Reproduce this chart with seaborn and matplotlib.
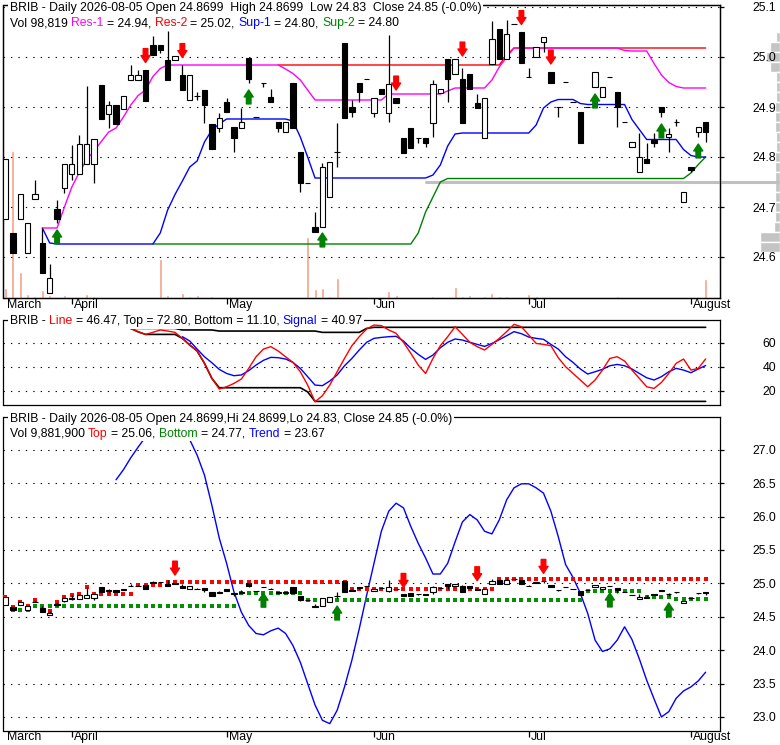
import numpy as np
import pandas as pd
import seaborn as sns
from matplotlib import pyplot as plt
from matplotlib.offsetbox import AnchoredOffsetbox, HPacker, VPacker, TextArea
from matplotlib.transforms import ScaledTranslation

# trading days on the chart (2026 exchange calendar)
holidays = ['2026-04-03', '2026-05-25', '2026-06-19', '2026-07-03']
dates = pd.bdate_range('2026-03-19', '2026-08-05', freq='C', holidays=holidays)
month_labels = ['March', 'April', 'May', 'Jun', 'Jul', 'August']

# daily candles (None = no wick beyond the body)
open_ = [24.676, 24.648, 24.676, 24.608, 24.716, 24.628, 24.528, 24.696, 24.738, 24.766,
         24.766, 24.786, 24.786, 24.944, 24.886, 24.904, 24.896, 24.954, 24.954, 24.974,
         25.024, 25.024, 24.994, 24.994, 24.964, 24.914, 24.922, 24.934, 24.866, 24.858,
         24.910, 24.860, 24.858, 24.998, 24.880, 24.948, 24.920, 24.870, 24.850, 24.948,
         24.810, 24.748, 24.660, 24.660, 24.720, 24.810, 25.028, 24.900, 24.948, 24.956,
         24.888, 24.936, 24.888, 24.918, 24.838, 24.858, 24.838, 24.838, 24.868, 24.928,
         24.996, 24.966, 24.956, 24.966, 24.908, 24.838, 24.986, 25.056, 24.996, 25.066,
         25.050, 24.960, 25.000, 25.030, 24.970, 24.900, 24.950, 24.910, 24.890, 24.900,
         24.940, 24.920, 24.960, 24.930, 24.870, 24.820, 24.770, 24.796, 24.834, 24.900,
         24.840, 24.870, 24.710, 24.780, 24.850, 24.8699]
close = [24.796, 24.608, 24.726, 24.668, 24.726, 24.568, 24.558, 24.676, 24.786, 24.786,
         24.826, 24.826, 24.836, 24.876, 24.904, 24.866, 24.922, 24.964, 24.964, 24.912,
         25.004, 25.014, 24.954, 25.002, 24.934, 24.964, 24.922, 24.904, 24.816, 24.878,
         24.890, 24.838, 24.870, 24.956, 24.880, 24.948, 24.910, 24.858, 24.870, 24.858,
         24.748, 24.748, 24.650, 24.780, 24.790, 24.810, 24.878, 24.890, 24.930, 24.956,
         24.918, 24.926, 24.946, 24.908, 24.808, 24.818, 24.838, 24.828, 24.946, 24.936,
         24.956, 24.996, 24.868, 24.936, 24.898, 24.918, 25.036, 24.996, 25.046, 25.066,
         24.988, 24.960, 25.020, 25.040, 24.948, 24.900, 24.950, 24.910, 24.828, 24.900,
         24.970, 24.940, 24.960, 24.900, 24.870, 24.830, 24.800, 24.788, 24.828, 24.890,
         24.846, 24.870, 24.730, 24.774, 24.860, 24.850]
high = [None, None, None, None, 24.754, 24.658, 24.586, 24.714, None, 24.824,
        24.844, 24.942, None, None, 24.912, None, None, 24.984, 24.974, None,
        25.042, None, 25.052, None, 24.984, None, 24.930, None, None, 24.888,
        24.918, None, 24.898, None, None, None, 24.936, None, None, None,
        None, None, 24.690, 24.788, None, 24.868, None, 24.914, None, None,
        None, None, 25.044, None, None, None, None, None, 24.954, None,
        None, None, 24.978, None, 24.926, None, 25.072, None, 25.074, None,
        None, 24.978, None, None, None, None, None, None, None, None,
        None, None, None, None, None, None, 24.848, 24.828, 24.848, None,
        24.858, 24.876, None, None, None, None]
low = [None, None, None, None, None, None, None, 24.668, 24.728, 24.754,
       None, None, 24.748, None, 24.858, None, None, None, None, None,
       None, 25.008, None, None, None, None, 24.914, 24.868, None, 24.850,
       None, 24.810, None, 24.948, None, 24.940, None, 24.850, None, None,
       24.730, None, None, None, None, 24.780, None, 24.880, 24.910, None,
       24.880, None, 24.870, None, None, None, 24.828, 24.820, 24.840, None,
       24.910, None, None, None, None, None, None, None, None, None,
       None, None, None, 25.010, None, 24.880, None, None, None, None,
       None, None, None, 24.860, None, None, None, None, 24.820, 24.880,
       24.810, 24.862, None, 24.770, 24.840, 24.830]
volume = [52000, 764400, 135200, 20800, 10400, 41600, 15600, 5200, 15600, 0,
          0, 20800, 10400, 0, 0, 5200, 0, 0, 5200, 0,
          5200, 202800, 15600, 0, 26000, 10400, 15600, 5200, 10400, 5200,
          0, 5200, 5200, 0, 0, 5200, 0, 0, 0, 0,
          0, 317200, 46800, 52000, 10400, 104000, 0, 5200, 0, 5200,
          0, 5200, 36400, 15600, 0, 5200, 0, 0, 10400, 5200,
          0, 57200, 10400, 15600, 5200, 10400, 26000, 10400, 10400, 5200,
          5200, 20800, 10400, 5200, 0, 5200, 0, 0, 0, 0,
          0, 0, 0, 10400, 0, 5200, 5200, 5200, 5200, 5200,
          0, 0, 0, 5200, 5200, 98819]

# resistance / support lines of the price panel
res1 = ([None] * 5 + [24.658, 24.658, 24.658, 24.700, 24.740, 24.769, 24.794, 24.812, 24.831,
                      24.850, 24.858, 24.880, 24.904, 24.923, 24.934, 24.961, 24.977]
        + [24.984] * 16 + [24.976, 24.967, 24.954, 24.934] + [24.914] * 10 + [24.926] * 8
        + [24.932] + [24.938] * 5 + [24.954, 24.980, 25.000] + [25.018] * 15 + [25.013]
        + [25.012] * 3 + [24.987, 24.964, 24.949, 24.941] + [24.938] * 4)
res2 = [None] * 37 + [24.984] * 31 + [25.004] + [25.018] * 27
sup1 = ([None] * 5 + [24.658, 24.628] + [24.626] * 14
        + [24.648, 24.694, 24.725, 24.752, 24.780, 24.792, 24.830, 24.854, 24.866]
        + [24.876] * 9 + [24.872, 24.840, 24.800] + [24.758] * 16
        + [24.764, 24.784, 24.822, 24.846] + [24.848] * 10 + [24.864, 24.898, 24.910]
        + [24.915] * 3 + [24.907] + [24.905] * 6 + [24.875, 24.855] + [24.835] * 5
        + [24.815, 24.803, 24.800, 24.800])
sup2 = ([None] * 20 + [24.626] * 36 + [24.648, 24.690, 24.720, 24.750] + [24.757] * 33
        + [24.768, 24.785, 24.800])
sell_top_i = [19, 24, 53, 62, 70, 74]
sell_top_p = [24.989, 24.999, 24.934, 25.002, 25.065, 24.986]
buy_top_i = [7, 33, 43, 80, 89, 94]
buy_top_p = [24.654, 24.934, 24.648, 24.926, 24.866, 24.826]
last_level = 24.75
last_level_from = 57
vap_price = [25.04, 25.02, 25.00, 24.98, 24.96, 24.94, 24.92, 24.90, 24.88, 24.86, 24.84,
             24.82, 24.80, 24.78, 24.76, 24.74, 24.72, 24.70, 24.68, 24.66, 24.64, 24.62]
vap_size = [4, 10, 14, 10, 4, 4, 4, 5, 5, 5, 4, 4, 5, 5, 5, 5, 5, 5, 5, 6, 20, 20]

# oscillator panel
osc_line = ([None] * 17 + [71.9, 69.2, 66.9, 68.6, 70.6, 69.7, 68.6, 63.6, 58.1, 53.1, 42.8,
                           30.3, 21.4, 23.3, 26.1, 29.7, 38.6, 48.3, 54.7, 56.7, 53.1, 48.3,
                           43.6, 35.8, 24.7, 10.8, 15.8, 24.7, 35.8, 46.9, 57.5, 65.0, 71.4,
                           74.7, 74.2, 70.6, 67.8, 60.3, 51.1, 41.4, 34.4, 46.9, 57.5, 65.0,
                           73.3, 66.9, 60.3, 56.7, 53.9, 58.6, 63.6, 69.2, 75.3, 73.3, 66.4,
                           59.4, 58.6, 57.5, 47.5, 40.0, 34.4, 28.9, 23.3, 28.9, 37.2, 46.9,
                           48.3, 44.7, 37.2, 30.3, 23.3, 21.9, 26.9, 34.4, 42.8, 46.4, 37.2,
                           38.6, 46.47])
osc_signal = ([None] * 24 + [65.0, 61.4, 54.7, 48.3, 43.3, 37.8, 34.4, 32.5, 33.1, 36.7, 41.4,
                             45.3, 47.8, 47.5, 46.4, 43.6, 38.6, 31.7, 24.7, 24.2, 28.1, 33.1,
                             40.8, 46.9, 53.9, 60.3, 63.6, 64.4, 65.0, 65.3, 61.4, 55.3, 50.3,
                             46.1, 49.7, 55.8, 60.3, 63.1, 62.2, 60.3, 58.6, 56.9, 59.4, 62.5,
                             65.8, 69.2, 67.5, 64.7, 63.6, 62.8, 58.6, 54.7, 48.3, 43.6, 38.1,
                             33.9, 35.8, 37.8, 40.8, 41.9, 40.8, 38.1, 34.4, 30.8, 28.9, 31.7,
                             35.8, 38.6, 37.2, 35.0, 38.1, 40.97])
osc_top = [None] * 17 + [71.9] * 7 + [70.6] * 5 + [69.7] * 14 + [68.6] * 6 + [71.9] + [72.8] * 46
osc_bottom = ([None] * 17 + [71.9, 69.0] + [66.9] * 5 + [63.6, 58.1, 53.1, 42.8, 30.3]
              + [22.5] * 12 + [19.0] + [11.1] * 54)

# trend panel
trend = ([None] * 15 + [26.55, 26.70, 26.88, 27.04, 27.19, 27.33, 27.42, 27.48, 27.45, 27.33,
                        27.15, 26.92, 26.62, 26.17, 25.68, 25.30, 24.87, 24.57, 24.37, 24.25,
                        24.23, 24.29, 24.33, 24.25, 24.07, 23.82, 23.50, 23.18, 22.95, 22.90,
                        23.10, 23.45, 23.85, 24.32, 24.82, 25.30, 25.78, 26.08, 26.20, 26.13,
                        25.85, 25.60, 25.38, 25.14, 25.14, 25.30, 25.62, 25.92, 26.03, 25.95,
                        25.78, 25.74, 25.95, 26.25, 26.43, 26.49, 26.49, 26.43, 26.35, 26.08,
                        25.70, 25.28, 25.09, 24.85, 24.55, 24.15, 23.98, 24.02, 24.15, 24.35,
                        24.16, 23.87, 23.55, 23.27, 23.00, 23.08, 23.28, 23.39, 23.45, 23.54,
                        23.67])
band_top = ([24.79, 24.65, 24.72, 24.66, 24.75, 24.66, 24.585, 24.715, 24.79, 24.825, 24.84, 24.94]
            + [24.84] * 6 + [24.975] * 4 + [25.015] * 25 + [24.91] * 20 + [25.06] * 29)
band_bottom = ([None, 24.60, 24.60, 24.60] + [24.655] * 28 + [24.86] * 9 + [24.75] * 38
               + [24.89] * 8 + [24.80] * 4 + [24.77] * 5)
sell_bot_i = [23, 54, 64, 73]
sell_bot_p = [25.124, 24.94, 25.04, 25.15]
buy_bot_i = [35, 45, 82, 90]
buy_bot_p = [24.852, 24.66, 24.855, 24.705]

W, H = 780, 745
FS = 8.8
sns.set_theme(style='white', rc={'axes.edgecolor': 'black', 'axes.linewidth': 0.9,
                                 'xtick.color': 'black', 'ytick.color': 'black'})
plt.rcParams['font.family'] = ['Liberation Sans', 'DejaVu Sans']

x = np.arange(len(dates))
o = np.array(open_, dtype=float)
c = np.array(close, dtype=float)
hi = np.array(high, dtype=float)
lo = np.array(low, dtype=float)
hi = np.where(np.isnan(hi), np.maximum(o, c), hi)
lo = np.where(np.isnan(lo), np.minimum(o, c), lo)
month_pos = [int(np.argmax(dates.month == m)) for m in sorted(set(dates.month))]

fig = plt.figure(figsize=(W / 100, H / 100), dpi=100)


def px_axes(top, bottom):
    return fig.add_axes([3.5 / W, 1 - bottom / H, 716 / W, (bottom - top) / H])


def grid(ax):
    ax.grid(axis='y', color='black', linestyle=(0, (1.2, 5.5)), linewidth=0.8)
    ax.grid(axis='x', visible=False)


def right_ticks(ax, ticks, fmt):
    ax.yaxis.tick_right()
    ax.set_yticks(ticks)
    ax.set_yticklabels([fmt % t for t in ticks])
    ax.tick_params(axis='y', right=True, left=False, direction='out', length=2.9,
                   width=0.9, pad=37.8, labelsize=FS)
    plt.setp(ax.get_yticklabels(), ha='right')


def month_axis(ax, pad):
    ax.set_xticks(month_pos)
    ax.set_xticklabels(month_labels, ha='left')
    ax.tick_params(axis='x', bottom=True, direction='out', length=4.3, width=0.9,
                   pad=pad, labelsize=FS)
    off = ScaledTranslation(2 / 100, 0, fig.dpi_scale_trans)
    for lab in ax.get_xticklabels():
        lab.set_transform(lab.get_transform() + off)
    ax.xaxis.get_major_ticks()[0].tick1line.set_visible(False)


def candles(ax):
    ax.vlines(x, lo, hi, color='black', lw=0.9, zorder=4)
    ax.bar(x, np.abs(c - o), width=0.72, bottom=np.minimum(o, c),
           color=np.where(c >= o, 'white', 'black'), edgecolor='black', linewidth=0.8, zorder=5)


def arrows(ax, idx, prices, color, up):
    for i, p in zip(idx, prices):
        ax.annotate('', xy=(i, p), xytext=(0, -10 if up else 10), textcoords='offset points',
                    annotation_clip=False, zorder=6,
                    arrowprops=dict(arrowstyle='simple,head_width=0.65,head_length=0.5,tail_width=0.33',
                                    color=color, shrinkA=0, shrinkB=0, mutation_scale=10))


def header(lines, x_px, y_px):
    rows = []
    for parts in lines:
        rows.append(HPacker(children=[TextArea(t, textprops=dict(color=col, fontsize=FS))
                                      for t, col in parts],
                            align='baseline', pad=0, sep=0.278 * FS))
    box = AnchoredOffsetbox(loc='upper left', child=VPacker(children=rows, align='left', pad=0, sep=2),
                            pad=0.12, borderpad=0, frameon=True,
                            bbox_to_anchor=(x_px / W, 1 - y_px / H), bbox_transform=fig.transFigure)
    box.patch.set_facecolor('white')
    box.patch.set_edgecolor('none')
    fig.add_artist(box)


XLIM = (-0.27, 96.88)

# ---- price panel
ax_vap = fig.add_axes([738 / W, 1 - 298 / H, 42 / W, 293 / H])
ax_vap.set_zorder(-1)
ax_vap.barh(vap_price, vap_size, height=0.02, color='#c4c4c4')
ax_vap.set_xlim(42, 0)
ax_vap.set_ylim(24.518, 25.104)
ax_vap.axis('off')

ax1 = px_axes(5, 298)
vol_ax = ax1.twinx()
vol_ax.bar(x, volume, width=0.4, color='#f8a084')
vol_ax.set_ylim(0, 293 * 5200)
vol_ax.set_yticks([])
vol_ax.tick_params(right=False, labelright=False)
ax1.set_zorder(vol_ax.get_zorder() + 1)
ax1.patch.set_visible(False)
grid(ax1)
sns.lineplot(x=x, y=np.array(sup2, dtype=float), ax=ax1, color='#008000', lw=1, zorder=2)
sns.lineplot(x=x, y=np.array(sup1, dtype=float), ax=ax1, color='#0000ff', lw=1, zorder=2)
sns.lineplot(x=x, y=np.array(res2, dtype=float), ax=ax1, color='#ff0000', lw=1, zorder=2)
sns.lineplot(x=x, y=np.array(res1, dtype=float), ax=ax1, color='#ff00ff', lw=1, zorder=2)
ax1.axhline(last_level, xmin=(last_level_from - XLIM[0]) / (XLIM[1] - XLIM[0]),
            xmax=1 + 61 / 716, color='#c0c0c0', lw=2.2, clip_on=False, zorder=1)
candles(ax1)
arrows(ax1, sell_top_i, sell_top_p, '#ff0000', up=False)
arrows(ax1, buy_top_i, buy_top_p, '#008000', up=True)
ax1.set_xlim(XLIM)
ax1.set_ylim(24.518, 25.104)
right_ticks(ax1, [24.6, 24.7, 24.8, 24.9, 25.0, 25.1], '%.1f')
month_axis(ax1, -3.6)
ax1.set_xlabel('')
ax1.set_ylabel('')
header([[('BRIB - Daily 2026-08-05 Open 24.8699  High 24.8699  Low 24.83  Close 24.85 (-0.0%)', 'black')],
        [('Vol 98,819', 'black'), ('Res-1', '#ff00ff'), ('= 24.94,', 'black'), ('Res-2', '#ff0000'),
         ('= 25.02,', 'black'), ('Sup-1', '#0000ff'), ('= 24.80,', 'black'), ('Sup-2', '#008000'),
         ('= 24.80', 'black')]], 8, 0.5)

# ---- oscillator panel
ax2 = px_axes(320, 405)
grid(ax2)
sns.lineplot(x=x, y=np.array(osc_top, dtype=float), ax=ax2, color='black', lw=1.2)
sns.lineplot(x=x, y=np.array(osc_bottom, dtype=float), ax=ax2, color='black', lw=1.2)
sns.lineplot(x=x, y=np.array(osc_signal, dtype=float), ax=ax2, color='#0000ff', lw=1)
sns.lineplot(x=x, y=np.array(osc_line, dtype=float), ax=ax2, color='#ff0000', lw=1)
ax2.set_xlim(XLIM)
ax2.set_ylim(8.1, 78.9)
right_ticks(ax2, [20, 40, 60], '%d')
ax2.set_xticks([])
ax2.tick_params(axis='x', bottom=False, labelbottom=False)
ax2.set_xlabel('')
ax2.set_ylabel('')
header([[('BRIB -', 'black'), ('Line', '#ff0000'), ('= 46.47, Top = 72.80, Bottom = 11.10,', 'black'),
         ('Signal', '#0000ff'), ('= 40.97', 'black')]], 8, 313)

# ---- trend panel
ax3 = px_axes(417, 731)
grid(ax3)
sns.lineplot(x=x, y=np.array(trend, dtype=float), ax=ax3, color='#0000ff', lw=1, zorder=2)
sns.scatterplot(x=x, y=np.array(band_top, dtype=float), ax=ax3, color='#ff0000', marker='s',
                s=9, linewidth=0, zorder=3)
sns.scatterplot(x=x, y=np.array(band_bottom, dtype=float), ax=ax3, color='#009000', marker='s',
                s=9, linewidth=0, zorder=3)
candles(ax3)
arrows(ax3, sell_bot_i, sell_bot_p, '#ff0000', up=False)
arrows(ax3, buy_bot_i, buy_bot_p, '#008000', up=True)
ax3.set_xlim(XLIM)
ax3.set_ylim(22.79, 27.49)
right_ticks(ax3, [23.0, 23.5, 24.0, 24.5, 25.0, 25.5, 26.0, 26.5, 27.0], '%.1f')
month_axis(ax3, -4.3)
ax3.set_xlabel('')
ax3.set_ylabel('')
header([[('BRIB - Daily 2026-08-05 Open 24.8699,Hi 24.8699,Lo 24.83, Close 24.85 (-0.0%)', 'black')],
        [('Vol 9,881,900', 'black'), ('Top', '#ff0000'), ('= 25.06,', 'black'), ('Bottom', '#008000'),
         ('= 24.77,', 'black'), ('Trend', '#0000ff'), ('= 23.67', 'black')]], 8, 411)

fig.savefig('out.png', dpi=100, facecolor='white')
